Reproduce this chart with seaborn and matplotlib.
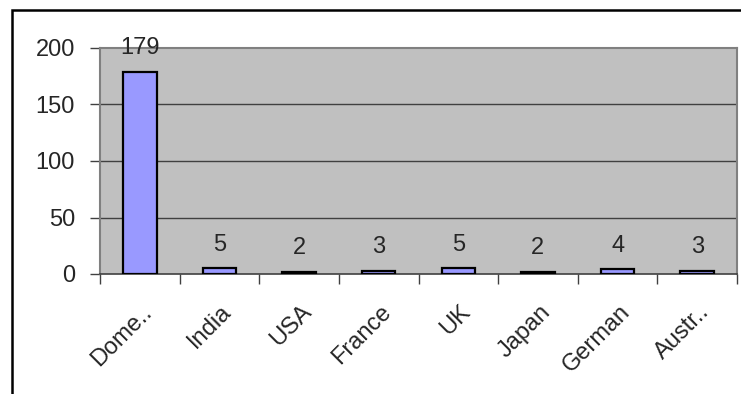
import matplotlib
matplotlib.use("Agg")
import matplotlib.pyplot as plt
import seaborn as sns
import pandas as pd
from matplotlib.patches import Rectangle
from matplotlib.transforms import ScaledTranslation

categories = ["Dome..", "India", "USA", "France", "UK", "Japan", "German", "Austr.."]
values = [179, 5, 2, 3, 5, 2, 4, 3]
yticks = [0, 50, 100, 150, 200]

sns.set_style("white")
plt.rcParams["font.family"] = ["Liberation Sans", "DejaVu Sans"]

W, H = 741, 394
fig = plt.figure(figsize=(W / 100, H / 100), dpi=100)
ax = fig.add_axes([100 / W, 1 - 274 / H, (737 - 100) / W, (274 - 48) / H])

df = pd.DataFrame({"cat": categories, "val": values})
sns.barplot(data=df, x="cat", y="val", ax=ax, color="#9999FF", saturation=1,
            width=0.42, edgecolor="black", linewidth=1.6, zorder=3)

ax.set_facecolor("#C0C0C0")
ax.set_xlim(-0.5, len(categories) - 0.5)
ax.set_ylim(0, 200)
ax.set_yticks(yticks)
ax.set_xlabel("")
ax.set_ylabel("")
for y in yticks[1:-1]:
    ax.axhline(y, color="#404040", linewidth=1.0, zorder=1)

for side in ["top", "right", "left"]:
    ax.spines[side].set_color("#808080")
    ax.spines[side].set_linewidth(1.5)
ax.spines["bottom"].set_color("#404040")
ax.spines["bottom"].set_linewidth(1.2)

ax.tick_params(axis="y", direction="out", length=7, width=1, color="#404040",
               labelsize=17, pad=11, left=True)
ax.set_xticks(range(len(categories)))
ax.set_xticks([i - 0.5 for i in range(len(categories) + 1)], minor=True)
ax.tick_params(axis="x", which="major", length=0, labelsize=17, pad=25)
ax.tick_params(axis="x", which="minor", direction="out", length=7, width=1,
               color="#404040", bottom=True)
ax.set_xticklabels(categories, rotation=45, ha="right", va="center",
                   rotation_mode="anchor")
offset = ScaledTranslation(9 / 100, 0, fig.dpi_scale_trans)
for lbl in ax.get_xticklabels():
    lbl.set_transform(lbl.get_transform() + offset)

ax.bar_label(ax.containers[0], labels=[str(v) for v in values], padding=9,
             fontsize=17)

fig.patches.append(Rectangle((12 / W, -0.05), 1.1, 1 - 10 / H + 0.05,
                             transform=fig.transFigure, fill=False,
                             edgecolor="black", linewidth=1.8))

fig.savefig("out.png", dpi=100)
